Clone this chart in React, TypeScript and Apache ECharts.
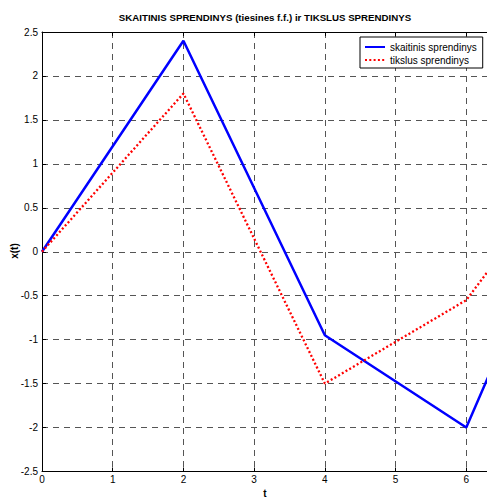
import React, { useEffect, useRef } from "react";
import * as echarts from "echarts";

// Time nodes and the two solutions evaluated at them
const tNodes = [0, 2, 4, 6, 7];
const numericSolution = [0, 2.4, -0.95, -2, -0.14];
const exactSolution = [0, 1.8, -1.5, -0.55, 0.52];

const xTicks = [0, 1, 2, 3, 4, 5, 6, 7];
const yTicks = [-2.5, -2, -1.5, -1, -0.5, 0, 0.5, 1, 1.5, 2, 2.5];

const seriesNames = ["skaitinis sprendinys", "tikslus sprendinys"];
const titleText = "SKAITINIS SPRENDINYS (tiesines f.f.) ir TIKSLUS SPRENDINYS";

const FONT = "'Liberation Sans', Arial, sans-serif";

export default function App() {
  const ref = useRef<HTMLDivElement>(null);

  useEffect(() => {
    document.body.style.margin = "0";
    if (!ref.current) return;
    const chart = echarts.init(ref.current, null, { renderer: "svg" });

    const gridLine = { show: true, lineStyle: { color: "#555", width: 1, type: [6, 5] } };
    const axisLine = { show: true, onZero: false, lineStyle: { color: "#000", width: 1 } };
    const tick = { show: true, inside: true, length: 4, lineStyle: { color: "#000" } };

    chart.setOption({
      animation: false,
      backgroundColor: "#fff",
      textStyle: { fontFamily: FONT },
      grid: {
        left: 42,
        top: 32,
        height: 439.5,
        width: 495,
        containLabel: false,
        outerBoundsMode: "none",
      },
      xAxis: [
        {
          type: "value",
          min: xTicks[0],
          max: xTicks[xTicks.length - 1],
          interval: 1,
          position: "bottom",
          axisLine,
          axisTick: tick,
          splitLine: gridLine,
          axisLabel: {
            color: "#000",
            fontSize: 10,
            margin: 3,
            fontFamily: FONT,
            // the last tick sits past the right edge of the view
            formatter: (v: number) => (v > 6 ? "" : String(v)),
          },
        },
        {
          type: "value",
          min: xTicks[0],
          max: xTicks[xTicks.length - 1],
          interval: 1,
          position: "top",
          axisLine,
          axisTick: tick,
          splitLine: { show: false },
          axisLabel: { show: false },
        },
      ],
      yAxis: {
        type: "value",
        min: yTicks[0],
        max: yTicks[yTicks.length - 1],
        interval: 0.5,
        axisLine,
        axisTick: tick,
        splitLine: gridLine,
        axisLabel: { color: "#000", fontSize: 10, margin: 4, fontFamily: FONT },
      },
      legend: {
        left: 360,
        top: 37,
        orient: "vertical",
        align: "left",
        backgroundColor: "#fff",
        borderColor: "#000",
        borderWidth: 1,
        borderRadius: 0,
        padding: [5, 6, 3, 4],
        itemGap: 3,
        itemWidth: 20,
        itemHeight: 12,
        itemStyle: { color: "transparent", borderWidth: 0 },
        textStyle: { color: "#000", fontSize: 10, fontFamily: FONT },
        data: seriesNames,
      },
      graphic: [
        {
          type: "text",
          x: 265,
          y: 17,
          style: {
            text: titleText,
            fill: "#000",
            font: `bold 9.7px ${FONT}`,
            textAlign: "center",
            textVerticalAlign: "middle",
          },
        },
        {
          type: "text",
          x: 265,
          y: 493,
          style: {
            text: "t",
            fill: "#000",
            font: `bold 10px ${FONT}`,
            textAlign: "center",
            textVerticalAlign: "middle",
          },
        },
        {
          type: "text",
          x: 14,
          y: 251,
          rotation: Math.PI / 2,
          style: {
            text: "x(t)",
            fill: "#000",
            font: `bold 10px ${FONT}`,
            textAlign: "center",
            textVerticalAlign: "middle",
          },
        },
      ],
      series: [
        {
          name: seriesNames[0],
          type: "line",
          symbol: "none",
          data: tNodes.map((t, i) => [t, numericSolution[i]]),
          lineStyle: { color: "#0000ff", width: 2.5, type: "solid" },
          itemStyle: { color: "#0000ff" },
        },
        {
          name: seriesNames[1],
          type: "line",
          symbol: "none",
          data: tNodes.map((t, i) => [t, exactSolution[i]]),
          lineStyle: { color: "#ff0000", width: 2.3, type: [2, 2.3] },
          itemStyle: { color: "#ff0000" },
        },
      ],
    });

    return () => chart.dispose();
  }, []);

  return <div ref={ref} style={{ width: 487, height: 501 }} />;
}
